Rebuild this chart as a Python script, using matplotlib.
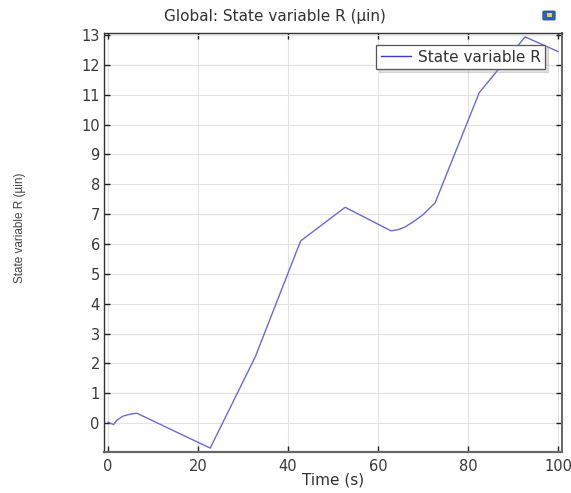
import matplotlib
matplotlib.use("Agg")
import matplotlib.pyplot as plt
from matplotlib.patches import FancyBboxPatch

# Time history of state variable R
time_s = [0.0, 1.2, 2.0, 3.3, 5.0, 6.4, 22.7, 32.7, 42.8, 52.7, 62.9, 64.5,
          66.0, 68.0, 70.0, 72.7, 82.5, 92.7, 100.0]
state_r = [0.03, -0.05, 0.10, 0.23, 0.30, 0.33, -0.84, 2.21, 6.10, 7.23, 6.44, 6.48,
           6.57, 6.76, 6.98, 7.38, 11.07, 12.94, 12.45]

x_ticks = [0, 20, 40, 60, 80, 100]
y_ticks = list(range(0, 14))

W, H = 571, 493
fig = plt.figure(figsize=(W / 100, H / 100), dpi=100)
ax = fig.add_axes([104 / W, 1 - 452 / H, (562 - 104) / W, (452 - 33) / H])

line_color = "#6a6ad8"
ax.plot(time_s, state_r, color=line_color, lw=1.0, label="State variable R")

ax.set_xlim(-0.9, 100.9)
ax.set_ylim(-0.97, 13.07)
ax.set_xticks(x_ticks)
ax.set_yticks(y_ticks)
ax.grid(True, color="#e2e2e2", lw=0.8)
ax.set_axisbelow(True)

ax.tick_params(direction="in", length=4, width=1, colors="#222222",
               top=True, right=True, labelsize=10.5, labelcolor="#3a3a3a")
ax.tick_params(axis="x", pad=5)
ax.tick_params(axis="y", pad=3)
for side in ax.spines.values():
    side.set_color("#333333")
    side.set_linewidth(1.0)
ax.spines["bottom"].set_color("#666666")
ax.spines["bottom"].set_linewidth(1.6)
ax.spines["right"].set_color("#666666")
ax.spines["right"].set_linewidth(1.4)

ax.set_xlabel("Time (s)", fontsize=11, color="#333333", labelpad=-1)

fig.text(275 / W, 1 - 16 / H, "Global: State variable R (µin)", ha="center",
         va="center", fontsize=11, color="#333333")
fig.text(20 / W, 1 - 228 / H, "State variable R (µin)", rotation=90, ha="center",
         va="center", fontsize=8.5, color="#444444", family="Liberation Sans")

leg = ax.legend(loc="upper right", bbox_to_anchor=(545 / W, 1 - 45 / H),
                bbox_transform=fig.transFigure, fontsize=11, frameon=True,
                fancybox=False, shadow={"color": "0.6", "alpha": 0.3},
                borderpad=0.3, handlelength=2.0, handletextpad=0.4,
                borderaxespad=0)
leg.get_frame().set_edgecolor("#555555")
leg.get_frame().set_linewidth(0.9)
leg.get_lines()[0].set_color("#3a3ad0")
for t in leg.get_texts():
    t.set_color("#333333")

# small toolbar icon in the upper right corner
icon = FancyBboxPatch((544 / W, 1 - 19 / H), 10 / W, 7 / H,
                      boxstyle="round,pad=0.002", transform=fig.transFigure,
                      facecolor="#2a62c4", edgecolor="#1c4a9a", lw=0.6)
fig.patches.append(icon)
inner = FancyBboxPatch((546.5 / W, 1 - 17 / H), 5 / W, 3.5 / H,
                       boxstyle="square,pad=0", transform=fig.transFigure,
                       facecolor="#e8d24a", edgecolor="none")
fig.patches.append(inner)

fig.savefig("out.png", dpi=100)
